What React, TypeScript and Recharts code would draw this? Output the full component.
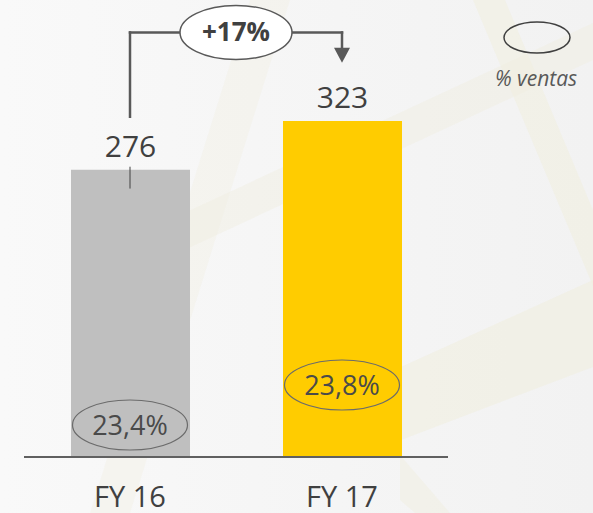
import React from 'react'
import {
  ComposedChart,
  Bar,
  Line,
  Cell,
  XAxis,
  YAxis,
  LabelList,
  ReferenceLine,
} from 'recharts'

const categories = ['FY 16', 'FY 17']
const ebitda = [276, 323]
const pctVentas = [23.4, 23.8]
const barColors = ['#BFBFBF', '#FFCC00']
const growthLabel = '+17%'
const legendLabel = '% ventas'

const rows = categories.map((cat, i) => ({ cat, val: ebitda[i], pct: pctVentas[i] }))

const FONT = "'Open Sans', sans-serif"
const TEXT = '#404040'
const LINE = '#595959'

// bracket heights, in value units of the main axis
const BRACKET_TOP = 408
const BRACKET_LEFT_END = 327
const ARROW_END = 379

function ValueLabel(props: any) {
  const { x, y, width, value } = props
  return (
    <text x={Number(x) + Number(width) / 2} y={Number(y) - 13} textAnchor="middle" fontSize={30} fill={TEXT} fontFamily={FONT}>
      {value}
    </text>
  )
}

function PctDot(props: any) {
  const { cx, cy, payload } = props
  if (cx == null || cy == null) return null
  return (
    <g>
      <ellipse cx={cx} cy={cy} rx={57.5} ry={25} fill="none" stroke="#6b6b6b" strokeWidth={1.2} />
      <text x={cx} y={cy + 10} textAnchor="middle" fontSize={27} fill="#4a4a4a" fontFamily={FONT}>
        {payload.pct.toFixed(1).replace('.', ',')}%
      </text>
    </g>
  )
}

function CatTick(props: any) {
  const { x, y, payload } = props
  return (
    <text x={x} y={y + 50} textAnchor="middle" fontSize={29} fill={TEXT} fontFamily={FONT}>
      {payload.value}
    </text>
  )
}

function GrowthShape(props: any) {
  const { x1, y1, x2, y2 } = props
  const mx = (x1 + x2) / 2
  return (
    <g>
      <line x1={x1} y1={y1} x2={x2} y2={y2} stroke={LINE} strokeWidth={2.5} strokeLinecap="square" />
      <ellipse cx={mx} cy={y1} rx={56} ry={27} fill="#ffffff" stroke={LINE} strokeWidth={1.5} />
      <text x={mx} y={y1 + 9} textAnchor="middle" fontSize={26} fontWeight="bold" fill={TEXT} fontFamily={FONT}>
        {growthLabel}
      </text>
    </g>
  )
}

function ArrowShape(props: any) {
  const { x1, y1, x2, y2 } = props
  const head = 15
  return (
    <g>
      <line x1={x1} y1={y1} x2={x2} y2={y2 - head} stroke={LINE} strokeWidth={2.5} strokeLinecap="square" />
      <polygon points={`${x2 - 8},${y2 - head} ${x2 + 8},${y2 - head} ${x2},${y2}`} fill={LINE} />
    </g>
  )
}

function Backdrop() {
  const band = '#f0eedf'
  return (
    <svg width={593} height={513} style={{ position: 'absolute', left: 0, top: 0 }}>
      <defs>
        <linearGradient id="bg" x1="0" y1="0" x2="1" y2="0">
          <stop offset="0%" stopColor="#f9f9f9" />
          <stop offset="100%" stopColor="#f2f2f2" />
        </linearGradient>
      </defs>
      <rect width={593} height={513} fill="url(#bg)" />
      <polygon points="90,513 130,513 290,0 250,0" fill={band} opacity={0.35} />
      <polygon points="180,215 180,252 593,60 593,23" fill={band} opacity={0.45} />
      <polygon points="401,367 401,440 593,367 593,280" fill={band} opacity={0.6} />
      <polygon points="473,0 505,0 593,210 593,286" fill={band} opacity={0.55} />
      <polygon points="400,455 400,500 415,513 450,513" fill={band} opacity={0.5} />
    </svg>
  )
}

function LegendBox() {
  return (
    <svg width={593} height={120} style={{ position: 'absolute', left: 0, top: 0 }}>
      <ellipse cx={537} cy={37.5} rx={33} ry={15.5} fill="none" stroke="#404040" strokeWidth={1.5} />
      <text x={536} y={86} textAnchor="middle" fontSize={21} fontStyle="italic" fill="#595959" fontFamily={FONT}>
        {legendLabel}
      </text>
    </svg>
  )
}

export default function App() {
  return (
    <div style={{ position: 'absolute', left: 0, top: 0, width: 593, height: 513, fontFamily: FONT }}>
      <Backdrop />
      <LegendBox />
      <div style={{ position: 'absolute', left: 0, top: 0 }}>
        <ComposedChart width={593} height={513} data={rows} margin={{ top: 20, right: 145, left: 24, bottom: 26 }}>
          <XAxis
            dataKey="cat"
            height={30}
            interval={0}
            tickLine={false}
            tickSize={0}
            tickMargin={0}
            axisLine={{ stroke: '#606060', strokeWidth: 2 }}
            tick={<CatTick />}
          />
          <YAxis yAxisId="val" hide domain={[0, 420]} />
          <YAxis yAxisId="pct" hide orientation="right" domain={[23.08, 27.45]} />
          <Bar dataKey="val" yAxisId="val" barSize={119} isAnimationActive={false}>
            {rows.map((r, i) => (
              <Cell key={r.cat} fill={barColors[i]} />
            ))}
            <LabelList dataKey="val" content={<ValueLabel />} />
          </Bar>
          <Line
            dataKey="pct"
            yAxisId="pct"
            stroke="none"
            dot={<PctDot />}
            activeDot={false}
            isAnimationActive={false}
          />
          <ReferenceLine
            yAxisId="val"
            ifOverflow="visible"
            segment={[{ x: categories[0], y: ebitda[0] - 18 }, { x: categories[0], y: ebitda[0] + 3 }]}
            stroke={TEXT}
            strokeWidth={1}
          />
          <ReferenceLine
            yAxisId="val"
            ifOverflow="visible"
            segment={[{ x: categories[0], y: BRACKET_LEFT_END }, { x: categories[0], y: BRACKET_TOP }]}
            stroke={LINE}
            strokeWidth={2.5}
            strokeLinecap="square"
          />
          <ReferenceLine
            yAxisId="val"
            ifOverflow="visible"
            segment={[{ x: categories[1], y: BRACKET_TOP }, { x: categories[1], y: ARROW_END }]}
            shape={<ArrowShape />}
          />
          <ReferenceLine
            yAxisId="val"
            ifOverflow="visible"
            segment={[{ x: categories[0], y: BRACKET_TOP }, { x: categories[1], y: BRACKET_TOP }]}
            shape={<GrowthShape />}
          />
        </ComposedChart>
      </div>
    </div>
  )
}
